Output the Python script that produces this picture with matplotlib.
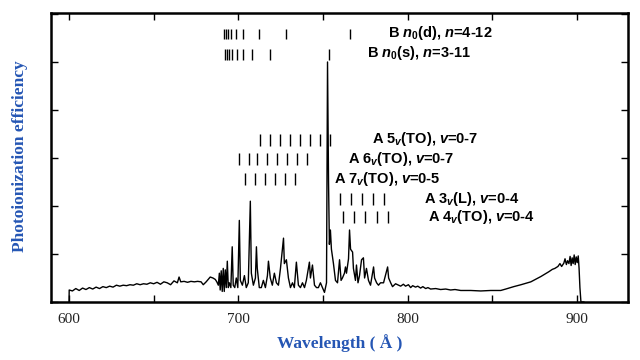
import matplotlib
matplotlib.use("Agg")
import matplotlib.pyplot as plt
from matplotlib.ticker import MultipleLocator, NullFormatter

# Spectrum (wavelength in Angstrom, efficiency in arb. units)
wavelength = [
    600.0, 600.1, 602, 604, 606, 608, 610, 612, 614, 616, 618, 620, 622, 624, 626,
    628, 630, 632, 634, 636, 638, 640, 642, 644, 646, 648, 650, 652, 654, 656,
    658, 660, 662, 664, 665, 666, 668, 670, 672, 674, 676, 678, 679.3, 681, 683.4,
    685, 686.4, 687.3, 688.2, 688.8, 689.3, 689.9, 690.5, 691.1, 691.7, 692.3,
    692.9, 693.5, 694.1, 694.7, 695.6, 696.4, 697.0, 697.9, 698.8, 699.7, 700.6,
    701.2, 702.4, 703.6, 704.7, 705.9, 707.1, 707.7, 708.9, 710.1, 710.7, 711.2,
    712.4, 713.6, 714.8, 716.0, 717.2, 717.8, 718.9, 720.1, 721.3, 722.5, 723.7,
    724.9, 726.7, 727.2, 728.4, 729.6, 730.8, 732.0, 733.1, 734.3, 735.5, 736.7,
    737.9, 739.1, 740.2, 742.0, 742.6, 743.8, 745.0, 746.2, 747.3, 748.5, 749.7,
    750.9, 752.1, 752.7, 753.3, 753.8, 754.4, 755.0, 756.2, 757.4, 758.6, 759.8,
    760.7, 761.5, 762.7, 763.3, 763.9, 765.1, 765.7, 766.3, 767.5, 768.0, 769.2,
    769.8, 770.7, 771.6, 772.8, 773.9, 774.6, 775.7, 776.9, 778.1, 779.9, 780.5,
    781.7, 782.8, 784.0, 785.8, 788.2, 788.8, 790.0, 791.1, 792.9, 795.9, 797.5,
    798.8, 800.5, 801.8, 803.0, 804.7, 806.0, 807.7, 809.0, 810.7, 812.0, 813.6,
    816.6, 819.5, 822.5, 825.4, 828.0, 831.4, 837.3, 843.2, 849.1, 855.0, 858.0,
    862.7, 867.0, 872.8, 878.7, 883.4, 885.5, 887.0, 888.8, 890.0, 891.0, 892.3,
    893.0, 893.8, 894.5, 895.3, 896.0, 896.6, 897.2, 897.8, 898.4, 899.0, 899.6,
    900.2, 900.8, 901.3, 901.8, 902.4, 904.1,
]
efficiency = [
    0.0, 0.25, 0.23, 0.28, 0.24, 0.29, 0.26, 0.30, 0.27, 0.31, 0.28, 0.32, 0.30, 0.33, 0.31,
    0.35, 0.33, 0.35, 0.34, 0.36, 0.35, 0.38, 0.36, 0.38, 0.37, 0.40, 0.38, 0.41, 0.37, 0.42,
    0.40, 0.36, 0.44, 0.40, 0.52, 0.42, 0.43, 0.41, 0.43, 0.42, 0.43, 0.42, 0.36, 0.42, 0.52,
    0.50, 0.47, 0.42, 0.35, 0.60, 0.25, 0.65, 0.22, 0.70, 0.22,
    0.67, 0.30, 0.85, 0.30, 0.40, 0.30, 1.15, 0.35, 0.30, 0.50, 0.30, 1.70,
    0.45, 0.35, 0.55, 0.30, 0.40, 2.10, 0.60, 0.35, 0.50, 1.15, 0.70,
    0.30, 0.30, 0.45, 0.30, 0.55, 0.85, 0.50, 0.35, 0.60, 0.40, 0.35,
    0.70, 1.33, 0.80, 0.88, 0.50, 0.30, 0.40, 0.30, 0.83, 0.35, 0.30,
    0.40, 0.30, 0.45, 0.83, 0.50, 0.77, 0.35, 0.30, 0.30, 0.40, 0.30,
    0.20, 0.40, 5.00, 2.50, 1.20, 1.50, 1.10, 0.80, 0.45, 0.40, 0.88,
    0.45, 0.50, 0.60, 0.73, 0.60, 0.90, 1.50, 1.10, 1.04, 0.70, 0.45,
    0.77, 0.40, 0.55, 0.88, 0.92, 0.50, 0.70, 0.45, 0.35, 0.73, 0.50,
    0.40, 0.35, 0.40, 0.40, 0.73, 0.50, 0.40, 0.32, 0.38, 0.33, 0.37,
    0.33, 0.36, 0.30, 0.34, 0.31, 0.33, 0.29, 0.32, 0.28, 0.30, 0.27,
    0.28, 0.26, 0.27, 0.25, 0.26, 0.24, 0.24, 0.23, 0.24, 0.24, 0.27,
    0.32, 0.36, 0.42, 0.53, 0.63, 0.68, 0.70, 0.74, 0.80, 0.74, 0.81,
    0.90, 0.78, 0.86, 0.80, 0.95, 0.76, 0.92, 0.80, 0.98, 0.78, 0.94,
    0.82, 0.96, 0.70, 0.30, 0.0, 0.0,
]

# Assignment combs: line positions for each progression
b_nd_lines = [766.0, 728.0, 712.0, 703.0, 698.5, 695.8, 694.0, 692.8, 691.8]
b_ns_lines = [753.3, 719.0, 708.3, 703.0, 699.4, 696.4, 694.7, 693.5, 692.3]
a5_lines = [712.7, 718.6, 724.6, 730.5, 736.4, 742.3, 748.2, 754.4]
a6_lines = [700.2, 706.1, 711.1, 717.0, 722.9, 728.9, 734.8, 740.7]
a7_lines = [704.1, 710.1, 716.0, 721.9, 727.8, 733.7]
a3l_lines = [759.8, 766.3, 772.8, 779.3, 785.8]
a4_lines = [762.1, 768.6, 775.1, 781.7, 788.2]

# (label, lines, comb bottom, comb top, label x, label y)
series = [
    (r"B $n_0$(d), $n$=4-12", b_nd_lines, 5.48, 5.69, 788.5, 5.60),
    (r"B $n_0$(s), $n$=3-11", b_ns_lines, 5.04, 5.27, 776.0, 5.18),
    (r"A 5$_v$(TO), $v$=0-7", a5_lines, 3.25, 3.50, 779.0, 3.40),
    (r"A 6$_v$(TO), $v$=0-7", a6_lines, 2.85, 3.10, 764.8, 2.98),
    (r"A 7$_v$(TO), $v$=0-5", a7_lines, 2.44, 2.69, 756.5, 2.56),
    (r"A 3$_v$(L), $v$=0-4", a3l_lines, 2.02, 2.27, 809.8, 2.15),
    (r"A 4$_v$(TO), $v$=0-4", a4_lines, 1.65, 1.90, 812.0, 1.77),
]

plt.rcParams['mathtext.fontset'] = 'custom'
plt.rcParams['mathtext.rm'] = 'Liberation Sans:bold'
plt.rcParams['mathtext.it'] = 'Liberation Sans:italic:bold'
plt.rcParams['mathtext.bf'] = 'Liberation Sans:bold'

blue = '#2556b4'

fig = plt.figure(figsize=(6.4, 3.6), dpi=100)
ax = fig.add_axes([51 / 640, 58 / 360, 577 / 640, 289 / 360])

ax.plot(wavelength, efficiency, color='black', lw=1.0)

for label, lines, y0, y1, lx, ly in series:
    ax.vlines(lines, y0, y1, color='black', lw=1.0)
    ax.text(lx, ly, label, fontsize=10.5, fontweight='bold', family='Liberation Sans',
            ha='left', va='center')

ax.set_xlim(589.35, 930.2)
ax.set_ylim(0, 6.02)

ax.xaxis.set_major_locator(MultipleLocator(100))
ax.xaxis.set_minor_locator(MultipleLocator(50))
ax.yaxis.set_major_locator(MultipleLocator(1))
ax.yaxis.set_major_formatter(NullFormatter())
ax.tick_params(axis='both', which='both', direction='in', top=True, right=True,
               width=1, color='black', length=5)
ax.tick_params(axis='x', labelsize=11, pad=8, labelcolor='#222222')
for lab in ax.get_xticklabels():
    lab.set_family('Liberation Serif')
for s in ax.spines.values():
    s.set_linewidth(1.8)

ax.set_xlabel("Wavelength ( Å )", fontsize=12.5, fontweight='bold',
              family='Liberation Serif', color=blue, labelpad=6)
fig.text(20 / 640, 0.565, "Photoionization efficiency", rotation=90, fontsize=12.5,
         fontweight='bold', family='Liberation Serif', color=blue,
         ha='center', va='center')

fig.savefig("out.png", dpi=100)
